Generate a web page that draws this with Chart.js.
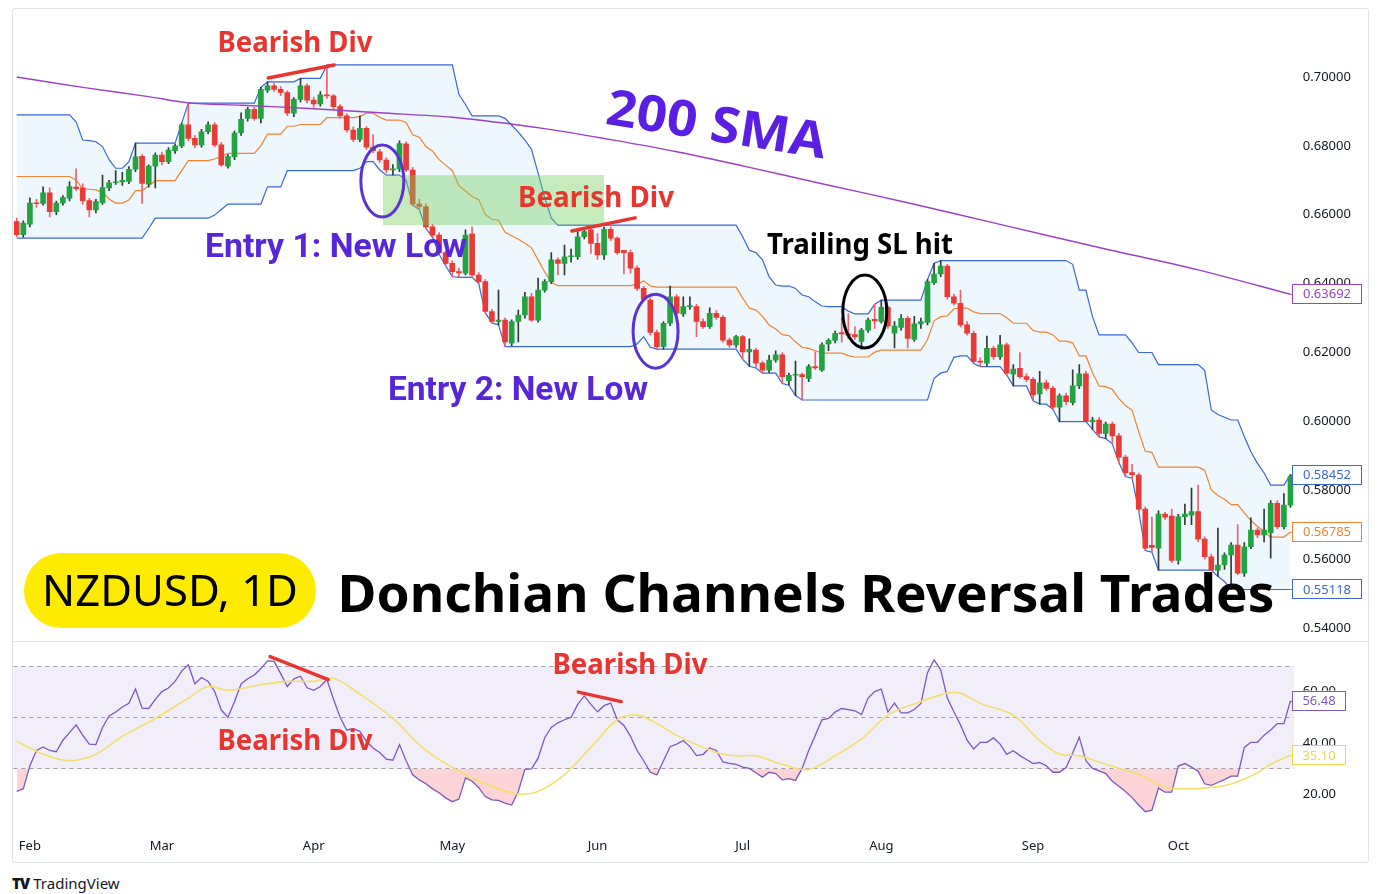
<!DOCTYPE html>
<html><head><meta charset="utf-8">
<script src="https://cdn.jsdelivr.net/npm/chart.js@4.4.1/dist/chart.umd.min.js"></script>
<style>
html,body{margin:0;padding:0;background:#fff;}
body{width:1382px;height:894px;position:relative;overflow:hidden;font-family:"Noto Sans",sans-serif;}
#frame{position:absolute;left:12px;top:8px;width:1357px;height:855px;border:1px solid #e0e3eb;box-sizing:border-box;border-radius:3px;}
#sep{position:absolute;left:12px;top:641px;width:1357px;height:1px;background:#e0e3eb;}
canvas{position:absolute;left:0;}
#logo{position:absolute;left:12px;top:873px;font-size:15px;color:#131722;display:flex;align-items:center;gap:4px;}
#logo b{font-family:"Noto Sans";font-weight:900;font-size:15px;letter-spacing:-1px;}
</style></head><body>
<div id="frame"></div>
<canvas id="price" width="1382" height="641" style="top:0"></canvas>
<div id="sep"></div>
<canvas id="rsi" width="1382" height="221" style="top:641px"></canvas>
<div id="logo"><b>TV</b><span>TradingView</span></div>
<script>
// ---------------- DATA ----------------
const opens = [
.6580,.6542,.6573,.6634,.6633,.6664,.6609,.6634,.6648,.6680,
.6678,.6641,.6614,.6635,.6678,.6693,.6695,.6697,.6732,.6770,
.6689,.6741,.6773,.6754,.6786,.6800,.6861,.6822,.6803,.6841,
.6861,.6803,.6741,.6769,.6838,.6880,.6906,.6880,.6962,.6974,
.6964,.6955,.6895,.6935,.6974,.6933,.6922,.6948,.6945,.6914,
.6887,.6846,.6819,.6851,.6796,.6783,.6759,.6730,.6733,.6806,
.6730,.6631,.6624,.6565,.6541,.6490,.6459,.6435,.6430,.6544,
.6425,.6406,.6319,.6290,.6294,.6227,.6290,.6309,.6362,.6294,
.6381,.6406,.6469,.6459,.6478,.6478,.6536,.6556,.6517,.6483,
.6558,.6532,.6497,.6490,.6445,.6386,.6352,.6258,.6217,.6285,
.6362,.6312,.6333,.6333,.6290,.6275,.6314,.6302,.6236,.6222,
.6246,.6202,.6207,.6169,.6149,.6178,.6193,.6118,.6134,.6136,
.6125,.6159,.6149,.6225,.6235,.6258,.6254,.6252,.6232,.6265,
.6296,.6290,.6331,.6256,.6273,.6299,.6238,.6283,.6287,.6403,
.6428,.6451,.6362,.6343,.6280,.6256,.6174,.6169,.6212,.6188,
.6222,.6137,.6154,.6130,.6122,.6080,.6112,.6096,.6041,.6074,
.6054,.6103,.6138,.5999,.6004,.5965,.5992,.5958,.5896,.5851,
.5844,.5745,.5640,.5632,.5731,.5725,.5596,.5723,.5728,.5738,
.5658,.5607,.5568,.5583,.5612,.5641,.5559,.5636,.5684,.5670,
.5677,.5762,.5694,.5757];
const highs = [
.6590,.6582,.6649,.6645,.6681,.6678,.6640,.6656,.6696,.6733,
.6690,.6648,.6645,.6715,.6700,.6728,.6723,.6740,.6808,.6775,
.6745,.6780,.6782,.6795,.6805,.6866,.6924,.6830,.6848,.6870,
.6868,.6810,.6775,.6843,.6896,.6912,.6912,.6970,.6986,.6982,
.6972,.6960,.6940,.6996,.6980,.6942,.6958,.7035,.6950,.6920,
.6893,.6855,.6887,.6856,.6833,.6790,.6765,.6746,.6815,.6812,
.6738,.6645,.6632,.6572,.6548,.6495,.6466,.6445,.6556,.6565,
.6432,.6412,.6325,.6381,.6300,.6295,.6323,.6375,.6372,.6416,
.6412,.6490,.6475,.6512,.6500,.6551,.6561,.6562,.6545,.6564,
.6565,.6536,.6497,.6498,.6452,.6392,.6358,.6265,.6290,.6393,
.6368,.6362,.6362,.6340,.6298,.6330,.6322,.6308,.6242,.6250,
.6250,.6240,.6212,.6175,.6192,.6205,.6200,.6140,.6175,.6140,
.6165,.6202,.6228,.6240,.6262,.6300,.6312,.6275,.6270,.6300,
.6340,.6352,.6336,.6290,.6310,.6305,.6305,.6300,.6412,.6459,
.6467,.6456,.6370,.6381,.6290,.6262,.6185,.6248,.6218,.6250,
.6228,.6165,.6200,.6138,.6128,.6145,.6120,.6102,.6080,.6082,
.6150,.6165,.6145,.6012,.6012,.5998,.5998,.5965,.5902,.5875,
.5850,.5752,.5722,.5740,.5736,.5745,.5730,.5760,.5806,.5815,
.5665,.5615,.5690,.5618,.5648,.5700,.5648,.5720,.5690,.5745,
.5770,.5770,.5790,.58452];
const lows = [
.6536,.6535,.6565,.6622,.6628,.6594,.6600,.6628,.6640,.6670,
.6630,.6594,.6605,.6630,.6670,.6688,.6685,.6690,.6725,.6633,
.6680,.6678,.6745,.6748,.6778,.6795,.6815,.6795,.6796,.6835,
.6798,.6740,.6735,.6760,.6830,.6872,.6874,.6867,.6955,.6958,
.6946,.6888,.6885,.6928,.6925,.6912,.6915,.6938,.6905,.6880,
.6840,.6812,.6812,.6790,.6780,.6752,.6722,.6715,.6725,.6725,
.6628,.6615,.6560,.6535,.6485,.6452,.6420,.6420,.6425,.6418,
.6400,.6315,.6286,.6280,.6217,.6220,.6231,.6300,.6290,.6288,
.6375,.6400,.6425,.6425,.6462,.6470,.6530,.6488,.6470,.6470,
.6525,.6485,.6428,.6430,.6380,.6350,.6250,.6210,.6210,.6278,
.6310,.6305,.6325,.6246,.6270,.6270,.6296,.6230,.6215,.6215,
.6180,.6160,.6155,.6140,.6142,.6172,.6110,.6105,.6075,.6062,
.6115,.6150,.6145,.6205,.6228,.6230,.6240,.6238,.6210,.6258,
.6270,.6285,.6270,.6213,.6265,.6213,.6232,.6270,.6280,.6398,
.6420,.6355,.6338,.6274,.6250,.6168,.6159,.6160,.6180,.6180,
.6135,.6103,.6125,.6115,.6060,.6050,.6090,.6035,.5999,.6048,
.6048,.6095,.5999,.5977,.5955,.5950,.5935,.5880,.5840,.5835,
.5740,.5625,.5620,.5568,.5715,.5590,.5585,.5700,.5700,.5650,
.5600,.5568,.5550,.5570,.55118,.5555,.5550,.5630,.5662,.5650,
.5603,.5688,.5688,.5750];
const closes = [
.6542,.6576,.6634,.6632,.6664,.6609,.6634,.6650,.6682,.6676,
.6641,.6614,.6638,.6679,.6693,.6695,.6700,.6732,.6768,.6691,
.6741,.6773,.6754,.6788,.6800,.6861,.6822,.6803,.6841,.6861,
.6803,.6745,.6769,.6837,.6877,.6906,.6880,.6964,.6974,.6964,
.6955,.6895,.6935,.6974,.6933,.6922,.6948,.6945,.6914,.6887,
.6846,.6819,.6851,.6796,.6786,.6759,.6730,.6733,.6807,.6730,
.6631,.6624,.6565,.6541,.6490,.6459,.6435,.6431,.6541,.6425,
.6406,.6319,.6290,.6294,.6231,.6290,.6309,.6362,.6294,.6381,
.6406,.6469,.6459,.6478,.6480,.6536,.6551,.6517,.6483,.6558,
.6532,.6490,.6490,.6445,.6386,.6354,.6258,.6217,.6285,.6362,
.6314,.6333,.6334,.6290,.6275,.6314,.6302,.6236,.6222,.6246,
.6202,.6209,.6169,.6149,.6178,.6193,.6130,.6134,.6136,.6130,
.6159,.6155,.6222,.6235,.6256,.6254,.6250,.6246,.6265,.6294,
.6292,.6331,.6277,.6277,.6299,.6241,.6283,.6290,.6406,.6428,
.6451,.6362,.6343,.6280,.6256,.6174,.6172,.6212,.6188,.6222,
.6140,.6152,.6130,.6122,.6077,.6112,.6096,.6041,.6074,.6057,
.6103,.6138,.5999,.6004,.5965,.5992,.5958,.5896,.5851,.5845,
.5745,.5632,.5634,.5731,.5722,.5596,.5723,.5731,.5738,.5658,
.5607,.5568,.5583,.5612,.5641,.5559,.5636,.5684,.5670,.5684,
.5762,.5694,.5757,.5840];

// Donchian channel, read as flat runs [value, number of bars]
const upperRuns = [[.6890,9],[.6870,1],[.6817,1],[.6815,1],[.6812,1],[.6798,1],[.6760,1],[.6735,2],[.6754,1],[.6808,7],[.6866,1],[.6924,11],[.6970,1],[.6986,5],[.6996,4],[.7035,20],[.6950,1],[.6920,1],[.6887,5],[.6880,1],[.6860,1],[.6840,1],[.6817,1],[.6790,1],[.6721,1],[.6650,1],[.6590,1],[.6570,28],[.6536,1],[.6497,1],[.6490,1],[.6469,1],[.6420,1],[.6396,1],[.6393,2],[.6386,1],[.6367,1],[.6362,1],[.6347,1],[.6335,1],[.6333,3],[.6320,1],[.6312,3],[.6340,1],[.6352,7],[.6412,1],[.6459,1],[.6467,20],[.6456,1],[.6381,2],[.6304,1],[.6251,5],[.6228,1],[.6200,3],[.6165,7],[.6148,1],[.6033,1],[.6020,1],[.6012,1],[.6004,2],[.5956,1],[.5912,1],[.5878,1],[.5850,1],[.5815,3],[.58452,1]];
const lowerRuns = [[.6532,20],[.6560,1],[.6590,9],[.6599,1],[.6615,1],[.6631,6],[.6681,3],[.6728,11],[.6735,1],[.6754,2],[.6730,1],[.6715,3],[.6700,1],[.6628,1],[.6615,1],[.6560,1],[.6535,1],[.6485,1],[.6452,1],[.6420,1],[.6418,3],[.6400,1],[.6315,1],[.6286,1],[.6280,1],[.6217,20],[.6225,1],[.6246,1],[.6215,1],[.6210,13],[.6180,1],[.6160,1],[.6155,1],[.6140,3],[.6110,1],[.6105,1],[.6075,1],[.6062,20],[.6125,1],[.6140,1],[.6145,1],[.6186,1],[.6190,2],[.6168,1],[.6159,4],[.6135,1],[.6103,3],[.6060,1],[.6050,2],[.6035,1],[.5999,5],[.5977,1],[.5955,1],[.5950,1],[.5935,1],[.5880,1],[.5840,1],[.5835,1],[.5740,1],[.5625,1],[.5620,1],[.5568,9],[.5550,1],[.5535,1],[.55118,10]];
const basisRuns = [[.6711,9],[.6701,1],[.6675,1],[.6674,1],[.6672,1],[.6665,1],[.6646,1],[.6634,2],[.6643,1],[.6670,2],[.6684,1],[.6699,4],[.6728,1],[.6757,4],[.6762,1],[.6770,1],[.6778,5],[.6801,1],[.6834,3],[.6857,2],[.6862,4],[.6882,5],[.6885,1],[.6895,2],[.6883,1],[.6875,3],[.6868,1],[.6832,1],[.6825,1],[.6798,1],[.6785,1],[.6760,1],[.6744,1],[.6728,1],[.6684,1],[.6669,1],[.6653,1],[.6644,1],[.6601,1],[.6587,1],[.6584,1],[.6549,1],[.6539,1],[.6529,1],[.6517,1],[.6504,1],[.6469,1],[.6434,1],[.6404,1],[.6394,12],[.6398,1],[.6408,1],[.6393,1],[.6390,13],[.6358,1],[.6329,1],[.6323,1],[.6305,1],[.6280,1],[.6268,1],[.6252,1],[.6249,1],[.6231,1],[.6215,1],[.6212,1],[.6205,1],[.6199,1],[.6198,3],[.6191,1],[.6187,3],[.6201,1],[.6207,7],[.6237,1],[.6292,1],[.6304,1],[.6306,1],[.6327,1],[.6329,2],[.6318,1],[.6313,4],[.6301,1],[.6285,3],[.6264,1],[.6259,2],[.6251,1],[.6233,2],[.6228,1],[.6190,2],[.6141,1],[.6103,1],[.6101,1],[.6093,1],[.6066,1],[.6046,1],[.6032,1],[.5970,1],[.5913,1],[.5910,1],[.5867,7],[.5858,1],[.5801,1],[.5785,1],[.5774,1],[.5758,2],[.5734,1],[.5712,1],[.5695,1],[.5681,1],[.5664,3],[.56785,1]];

// 200 SMA, read at a few bars (line drawn through them)
const smaIdx = [0,10,20,26,34,45,55,66,80,90,100,110,122,135,149,164,179,193];
const smaVal = [.7000,.6970,.6943,.6925,.6918,.6908,.6896,.6883,.6850,.6818,.6783,.6742,.6690,.6635,.6572,.6505,.6440,.63692];

// RSI(14) per bar
const rsiValues = [
21,22,31,37,38.4,37,36.5,41,44,47,
43,39.5,39.3,46,50.5,52,54,55.4,61,53.5,
53.4,57,60,61.4,64,68,70.5,63,65.5,64,
60,52.8,50,56,63,65,66.5,69,72,71.8,
67,62,65,66,61.5,60.5,62,64.7,57,50,
45,45.5,44.5,40.5,38,36.2,33.6,33.2,39.3,33,
27.5,25.5,24,22,20.5,18.5,17,18,26.3,25,
22.5,19,17.7,17.5,16.4,15.7,21,29.6,29.8,34,
42,46,47.8,49,50,55,58.3,55,52.1,54.5,
55.5,49,46.8,42.5,37,33,28.5,27.5,33,38.5,
39.5,40.9,38.5,35,35.5,38,37,32.5,32,31.6,
30.5,30,28.3,26.6,28.5,28,25.5,26,25.3,30,
37,42.9,49,49.5,52,53.4,53,52.5,51,57.5,
60,61,52,55.5,51.7,51.7,53,55.4,67.4,72.4,
68.5,57.5,52.1,47,41,37.6,40.2,40.2,41.9,39.5,
35.5,36.9,35,33.5,31.9,32.3,31,28.5,28.5,30.3,
36,42.2,33,30,29,28,25,23,21,18.6,
15.7,13.1,13.7,22.3,20.7,20.7,30.9,31.9,30.5,28.9,
24,23.4,24.5,25.6,27,27,38.2,40.2,40.2,43,
45,47.5,47.5,56.48];
// RSI moving average, read at a few bars
const rsiMaIdx = [0,4,8,12,16,21,26,29,32,37,41,45,48,52,57,62,68,72,76,79,83,87,91,94,97,100,106,109,112,116,120,124,128,132,136,141,143,146,151,155,158,161,165,170,174,176,180,184,188,190,193];
const rsiMaVal = [40.5,35.6,33,35.5,42.5,49.5,57.4,62,60.5,62.7,64,64,65.2,59,49.5,37,27.5,23,20,21,27.6,38.2,49,50.8,47.5,42.9,36.2,34.9,34.9,31.6,29.6,34.9,41.5,50.8,55.2,59.4,59.4,55.4,50.8,40.9,35.6,34.9,31.6,27.6,22.6,22.1,22.3,23.9,28.3,31.6,35.1];

const priceTicks = [0.54,0.56,0.58,0.60,0.62,0.64,0.66,0.68,0.70];
const rsiTicks = [20,40,60];
const rsiLevels = [70,50,30];
const monthTickIdx = [2,22,45,66,88,110,131,154,176];
const monthTickLabels = ['Feb','Mar','Apr','May','Jun','Jul','Aug','Sep','Oct'];

// annotations (data coordinates: bar index, price / RSI)
const divLinesPrice = [[38.1,.6997,48.1,.7035],[84.1,.6553,93.7,.6591]];
const divLinesRsi = [[38.4,73.7,47.2,64.7],[85.1,59.8,91.6,56.1]];
const entryZone = {i0:55.5, i1:89, p0:.6715, p1:.6570};
const circles = [{i:55.4,p:.6698,rx:21.5,ry:36,c:'#5a34d0'},{i:96.8,p:.6262,rx:22.5,ry:37,c:'#5a34d0'},{i:128.5,p:.6319,rx:22,ry:36.5,c:'#000000'}];

// ---------------- HELPERS ----------------
function expandRuns(runs){const out=[];runs.forEach(([v,n])=>{for(let k=0;k<n;k++)out.push(v);});return out;}
function sparse(idx,vals,n){const out=new Array(n).fill(null);idx.forEach((i,k)=>{out[i]=vals[k];});return out;}
function fitText(ctx,text,cx,by,w,font,color,angle,base){
  ctx.save();ctx.font=font;const m=ctx.measureText(text).width;
  ctx.translate(cx,by);if(angle)ctx.rotate(angle);ctx.scale(w/m,1);
  ctx.fillStyle=color;ctx.textAlign='center';ctx.textBaseline=base||'alphabetic';
  ctx.fillText(text,0,0);ctx.restore();
}
function valueBox(ctx,text,xl,yc,w,color,stubX){
  ctx.save();
  ctx.strokeStyle=color;ctx.lineWidth=1;
  ctx.beginPath();ctx.moveTo(stubX,Math.round(yc)+0.5);ctx.lineTo(xl,Math.round(yc)+0.5);ctx.stroke();
  ctx.fillStyle='#ffffff';ctx.fillRect(xl,yc-10,w,20);
  ctx.strokeRect(Math.round(xl)+0.5,Math.round(yc-10)+0.5,w-1,19);
  ctx.fillStyle=color;ctx.font='13px "Noto Sans"';ctx.textAlign='center';ctx.textBaseline='middle';
  ctx.fillText(text,xl+w/2,yc+0.5);
  ctx.restore();
}
// set scale limits so that two reference values land on given canvas rows
function calibrate(chart,id,vHi,pHi,vLo,pLo){
  const ca=chart.chartArea;const k=(pLo-pHi)/(vHi-vLo);
  chart.options.scales[id].max=vHi+(pHi-ca.top)/k;
  chart.options.scales[id].min=vLo-(ca.bottom-pLo)/k;
  chart.update('none');
}

const N = closes.length;
const dates=[];{const d=new Date(Date.UTC(2022,0,28));while(dates.length<N){const wd=d.getUTCDay();if(wd!==0&&wd!==6)dates.push(d.toISOString().slice(0,10));d.setUTCDate(d.getUTCDate()+1);}}
const upper = expandRuns(upperRuns), lower = expandRuns(lowerRuns), basis = expandRuns(basisRuns);
const sma = sparse(smaIdx,smaVal,N);
const rsiMa = sparse(rsiMaIdx,rsiMaVal,N);

const UP='#22a33f', DOWN='#ea3a35', UPWICK='#2e3b31', DOWNWICK='#ee6169';
const RED='#e8352f', VIOLET='#5626d8';
const isUp = closes.map((c,i)=>c>=opens[i]);
const AXIS_W = 88.2, LEFT_PAD = 13.4;

Chart.defaults.font.family='"Noto Sans", sans-serif';
Chart.defaults.animation=false;

// ---------------- PRICE CHART ----------------
const priceAnno = {
  id:'priceAnno',
  afterDatasetsDraw(chart){
    const {ctx,scales:{x,y}}=chart;
    const x0=x.getPixelForValue(entryZone.i0),x1=x.getPixelForValue(entryZone.i1);
    const y0=y.getPixelForValue(entryZone.p0),y1=y.getPixelForValue(entryZone.p1);
    ctx.save();ctx.fillStyle='rgba(118,208,98,0.42)';ctx.fillRect(x0,y0,x1-x0,y1-y0);ctx.restore();
  },
  afterDraw(chart){
    const {ctx,chartArea:ca,scales:{x,y}}=chart;
    const X=v=>x.getPixelForValue(v),Y=v=>y.getPixelForValue(v);
    ctx.save();
    circles.forEach(e=>{ctx.beginPath();ctx.ellipse(X(e.i),Y(e.p),e.rx,e.ry,0,0,Math.PI*2);ctx.strokeStyle=e.c;ctx.lineWidth=3;ctx.stroke();});
    divLinesPrice.forEach(l=>{ctx.beginPath();ctx.moveTo(X(l[0]),Y(l[1]));ctx.lineTo(X(l[2]),Y(l[3]));ctx.strokeStyle=RED;ctx.lineWidth=3.5;ctx.lineCap='round';ctx.stroke();});
    ctx.restore();
    fitText(ctx,'Bearish Div',295,52,155,'bold 28px "Noto Sans"',RED);
    fitText(ctx,'Bearish Div',596,207,156,'bold 28px "Noto Sans"',RED);
    fitText(ctx,'Entry 1: New Low',336,257,262,'bold 34px Roboto',VIOLET);
    fitText(ctx,'Entry 2: New Low',518,400,260,'bold 34px Roboto',VIOLET);
    fitText(ctx,'Trailing SL hit',860,254,186,'bold 28px "Noto Sans"','#000000');
    fitText(ctx,'200 SMA',716,127,222,'bold 50px "Open Sans"','#5a1fe2',9*Math.PI/180,'middle');
    ctx.save();ctx.fillStyle='#ffeb00';ctx.beginPath();ctx.roundRect(24,553,292,75,37.5);ctx.fill();ctx.restore();
    fitText(ctx,'NZDUSD, 1D',170,606,256,'44px "Noto Sans"','#000000');
    fitText(ctx,'Donchian Channels Reversal Trades',806,612,937,'bold 52px "Noto Sans"','#000000');
    const stub=ca.right-3;
    valueBox(ctx,smaVal[smaVal.length-1].toFixed(5),1292,Y(smaVal[smaVal.length-1]),70,'#9c40c8',stub);
    valueBox(ctx,upper[N-1].toFixed(5),1292,Y(upper[N-1]),70,'#3b67d6',stub);
    valueBox(ctx,basis[N-1].toFixed(5),1292,Y(basis[N-1]),70,'#f0842f',stub);
    valueBox(ctx,lower[N-1].toFixed(5),1292,Y(lower[N-1]),70,'#3b67d6',stub);
  }
};

const priceChart = new Chart(document.getElementById('price'),{
  type:'bar',
  data:{labels:dates,datasets:[
    {type:'line',label:'Upper',data:upper,borderColor:'#3b67d6',borderWidth:1.2,pointRadius:0,fill:'+1',backgroundColor:'rgba(33,150,243,0.075)',order:10},
    {type:'line',label:'Lower',data:lower,borderColor:'#3b67d6',borderWidth:1.2,pointRadius:0,fill:false,order:10},
    {type:'line',label:'Basis',data:basis,borderColor:'#f0842f',borderWidth:1.2,pointRadius:0,fill:false,order:9},
    {type:'bar',label:'Wicks',data:lows.map((l,i)=>[l,highs[i]]),backgroundColor:isUp.map(u=>u?UPWICK:DOWNWICK),barThickness:1,grouped:false,order:6},
    {type:'bar',label:'Bodies',data:opens.map((o,i)=>[o,closes[i]]),backgroundColor:isUp.map(u=>u?UP:DOWN),barThickness:5,minBarLength:1,grouped:false,order:5},
    {type:'line',label:'SMA 200',data:sma,borderColor:'#9c40c8',borderWidth:1.4,pointRadius:0,spanGaps:true,tension:0.3,fill:false,order:4}
  ]},
  options:{
    responsive:false,animation:false,events:[],
    layout:{padding:{left:LEFT_PAD,top:9,right:0,bottom:1}},
    plugins:{legend:{display:false},tooltip:{enabled:false}},
    scales:{
      x:{display:false,offset:true,grid:{display:false}},
      y:{position:'right',min:0.5365,max:0.7197,grid:{display:false,drawTicks:false},border:{display:false},
        afterBuildTicks:s=>{s.ticks=priceTicks.map(v=>({value:v}));},
        afterFit:s=>{s.width=AXIS_W;},
        ticks:{padding:9,color:'#131722',font:{size:13},callback:v=>Number(v).toFixed(5)}}
    }
  },
  plugins:[priceAnno]
});
calibrate(priceChart,'y',0.70,77,0.54,628);

// ---------------- RSI CHART ----------------
const rsiAnno = {
  id:'rsiAnno',
  beforeDatasetsDraw(chart){
    const {ctx,chartArea:ca,scales:{y}}=chart;
    ctx.save();
    const yT=y.getPixelForValue(rsiLevels[0]),yB=y.getPixelForValue(rsiLevels[2]);
    ctx.fillStyle='rgba(126,87,194,0.1)';ctx.fillRect(ca.left,yT,ca.right-ca.left,yB-yT);
    ctx.setLineDash([4,4]);ctx.strokeStyle='rgba(120,123,134,0.7)';ctx.lineWidth=1;
    rsiLevels.forEach(l=>{const yy=Math.round(y.getPixelForValue(l))+0.5;ctx.beginPath();ctx.moveTo(ca.left,yy);ctx.lineTo(ca.right,yy);ctx.stroke();});
    ctx.restore();
  },
  afterDraw(chart){
    const {ctx,chartArea:ca,scales:{x,y}}=chart;
    const X=v=>x.getPixelForValue(v),Y=v=>y.getPixelForValue(v);
    ctx.save();
    divLinesRsi.forEach(l=>{ctx.beginPath();ctx.moveTo(X(l[0]),Y(l[1]));ctx.lineTo(X(l[2]),Y(l[3]));ctx.strokeStyle=RED;ctx.lineWidth=3.5;ctx.lineCap='round';ctx.stroke();});
    ctx.restore();
    fitText(ctx,'Bearish Div',295,109,155,'bold 28px "Noto Sans"',RED);
    fitText(ctx,'Bearish Div',630,33,155,'bold 28px "Noto Sans"',RED);
    const stub=ca.right-3;
    valueBox(ctx,rsiValues[N-1].toFixed(2),1292,Y(rsiValues[N-1]),54,'#7e57c2',stub);
    valueBox(ctx,rsiMaVal[rsiMaVal.length-1].toFixed(2),1292,Y(rsiMaVal[rsiMaVal.length-1]),54,'#e9d84a',stub);
  }
};

const rsiChart = new Chart(document.getElementById('rsi'),{
  type:'line',
  data:{labels:dates,datasets:[
    {label:'RSI',data:rsiValues,borderColor:'#7e57c2',borderWidth:1.3,pointRadius:0,tension:0,
     fill:{target:{value:30},above:'rgba(0,0,0,0)',below:'rgba(242,54,69,0.22)'},order:2},
    {label:'RSI MA',data:rsiMa,borderColor:'#f3df6a',borderWidth:1.6,pointRadius:0,spanGaps:true,tension:0.35,fill:false,order:1}
  ]},
  options:{
    responsive:false,animation:false,events:[],
    layout:{padding:{left:LEFT_PAD,top:2,right:0,bottom:0}},
    plugins:{legend:{display:false},tooltip:{enabled:false}},
    scales:{
      x:{offset:true,grid:{display:false,drawTicks:false},border:{display:false},
        afterFit:s=>{s.height=34;},
        ticks:{autoSkip:false,maxRotation:0,minRotation:0,padding:10,color:'#131722',font:{size:13},
          callback:(v,i)=>{const k=monthTickIdx.indexOf(i);return k>=0?monthTickLabels[k]:'';}}},
      y:{position:'right',min:6.7,max:79,grid:{display:false,drawTicks:false},border:{display:false},
        afterBuildTicks:s=>{s.ticks=rsiTicks.map(v=>({value:v}));},
        afterFit:s=>{s.width=AXIS_W;},
        ticks:{padding:9,color:'#131722',font:{size:13},callback:v=>Number(v).toFixed(2)}}
    }
  },
  plugins:[rsiAnno]
});
// RSI 70 on page row 666 (canvas row 25), RSI 20 on page row 794 (canvas row 153)
calibrate(rsiChart,'y',70,25,20,153);
</script>
</body></html>
